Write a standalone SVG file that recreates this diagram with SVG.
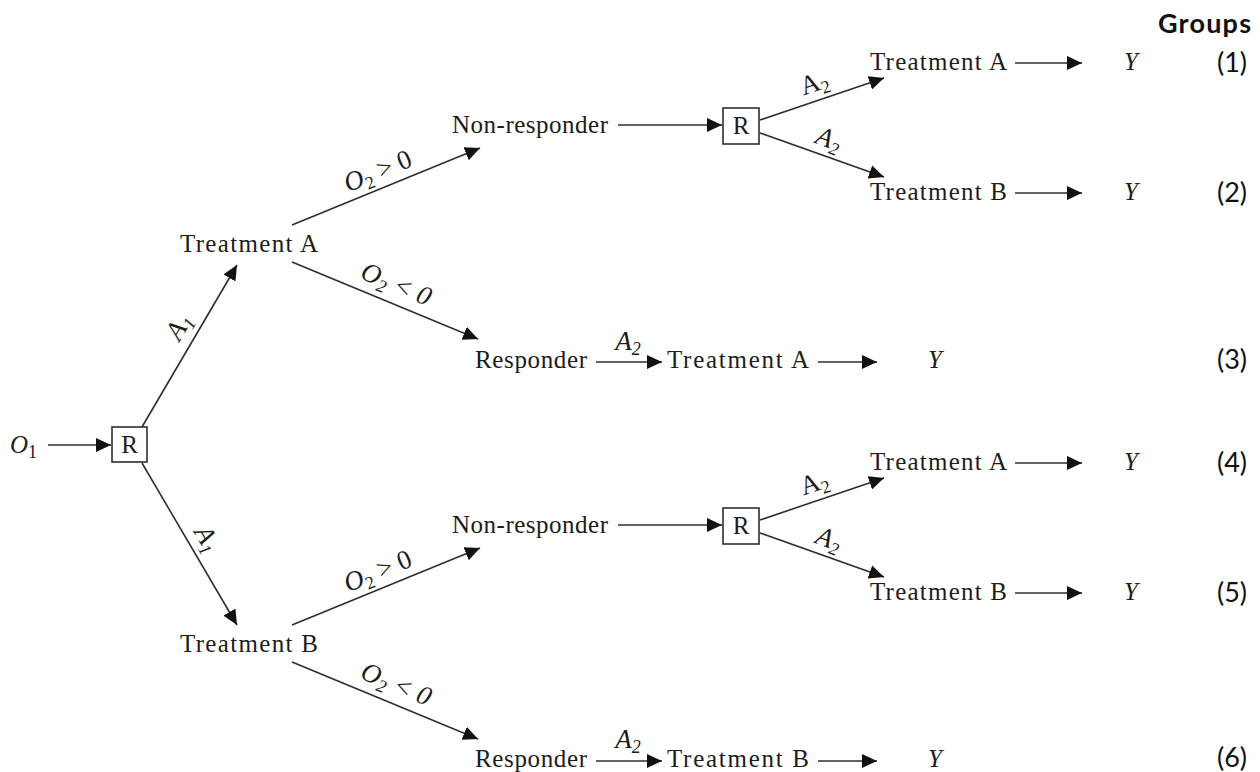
<svg xmlns="http://www.w3.org/2000/svg" width="1260" height="772" viewBox="0 0 1260 772">
<style>
.t{font-family:"Liberation Serif","Times New Roman",serif;font-size:25px;fill:#1c1c1c}
.i{font-style:italic}
.s{font-size:18px}
.lab{font-family:"Liberation Serif","Times New Roman",serif;font-size:27px;fill:#1c1c1c}
.g{font-family:Lato,"Open Sans",sans-serif;font-size:27px;fill:#111}
.gb{font-weight:bold}
.c{stroke:#2e2e2e;stroke-width:1.6;fill:none;marker-end:url(#ah)}
.box{fill:#fff;stroke:#2e2e2e;stroke-width:1.6}
</style>
<defs>
<marker id="ah" markerUnits="userSpaceOnUse" markerWidth="16" markerHeight="14" refX="15" refY="7" orient="auto">
<path d="M0,0 L15,7 L0,14 z" fill="#111"/>
</marker>
</defs>
<rect width="1260" height="772" fill="#fff"/>

<g id="connectors">
<line class="c" x1="48" y1="445" x2="111" y2="445"/>
<line class="c" x1="142" y1="427" x2="237" y2="265"/>
<line class="c" x1="142" y1="463" x2="237" y2="625"/>
<line class="c" x1="292" y1="225" x2="480" y2="148"/>
<line class="c" x1="292" y1="262" x2="478" y2="339"/>
<line class="c" x1="292" y1="625" x2="480" y2="548"/>
<line class="c" x1="292" y1="662" x2="478" y2="739"/>
<line class="c" x1="618" y1="125" x2="722" y2="125"/>
<line class="c" x1="618" y1="525" x2="722" y2="525"/>
<line class="c" x1="760" y1="120" x2="884" y2="78"/>
<line class="c" x1="760" y1="133" x2="884" y2="177"/>
<line class="c" x1="760" y1="520" x2="884" y2="478"/>
<line class="c" x1="760" y1="533" x2="884" y2="577"/>
<line class="c" x1="1015" y1="63" x2="1082" y2="63"/>
<line class="c" x1="1015" y1="193" x2="1082" y2="193"/>
<line class="c" x1="1015" y1="463" x2="1082" y2="463"/>
<line class="c" x1="1015" y1="593" x2="1082" y2="593"/>
<line class="c" x1="596" y1="362" x2="662" y2="362"/>
<line class="c" x1="818" y1="362" x2="877" y2="362"/>
<line class="c" x1="596" y1="761" x2="662" y2="761"/>
<line class="c" x1="818" y1="761" x2="877" y2="761"/>
</g>

<g id="edge-labels">
<text class="lab i" transform="translate(186,331) rotate(-59.5)" text-anchor="middle">A<tspan class="s" dy="5">1</tspan></text>
<text class="lab i" transform="translate(200,543) rotate(59.6)" text-anchor="middle">A<tspan class="s" dy="5">1</tspan></text>
<text class="lab" transform="translate(381,179) rotate(-22.3)" text-anchor="middle"><tspan class="i">O</tspan><tspan class="s" dy="5">2</tspan><tspan dy="-5"> &gt; 0</tspan></text>
<text class="lab i" transform="translate(393,292) rotate(22.5)" text-anchor="middle">O<tspan class="s" dy="5">2</tspan><tspan dy="-5"> &lt; 0</tspan></text>
<text class="lab" transform="translate(381,579) rotate(-22.3)" text-anchor="middle"><tspan class="i">O</tspan><tspan class="s" dy="5">2</tspan><tspan dy="-5"> &gt; 0</tspan></text>
<text class="lab i" transform="translate(393,692) rotate(22.5)" text-anchor="middle">O<tspan class="s" dy="5">2</tspan><tspan dy="-5"> &lt; 0</tspan></text>
<text class="lab" transform="translate(817,91) rotate(-18.7)" text-anchor="middle">A<tspan class="s" dy="5">2</tspan></text>
<text class="lab i" transform="translate(826,147) rotate(19.5)" text-anchor="middle">A<tspan class="s" dy="5">2</tspan></text>
<text class="lab" transform="translate(817,491) rotate(-18.7)" text-anchor="middle">A<tspan class="s" dy="5">2</tspan></text>
<text class="lab i" transform="translate(826,547) rotate(19.5)" text-anchor="middle">A<tspan class="s" dy="5">2</tspan></text>
<text class="lab i" x="628" y="350" text-anchor="middle">A<tspan class="s" dy="5">2</tspan></text>
<text class="lab i" x="628" y="748" text-anchor="middle">A<tspan class="s" dy="5">2</tspan></text>
</g>

<g id="node-O1"><text class="t i" x="10" y="453" font-size="27">O<tspan class="s" font-style="normal" dy="5">1</tspan></text></g>
<g id="node-R1"><rect class="box" x="112" y="427" width="35" height="35"/><text class="t" x="129.5" y="453" text-anchor="middle">R</text></g>
<g id="node-treatA"><text class="t" x="180" y="252" textLength="138">Treatment A</text></g>
<g id="node-treatB"><text class="t" x="180" y="652" textLength="138">Treatment B</text></g>
<g id="node-nonresp1"><text class="t" x="452" y="133" textLength="156">Non-responder</text></g>
<g id="node-nonresp2"><text class="t" x="452" y="533" textLength="156">Non-responder</text></g>
<g id="node-R2"><rect class="box" x="723" y="108" width="36" height="36"/><text class="t" x="741" y="134" text-anchor="middle">R</text></g>
<g id="node-R3"><rect class="box" x="723" y="508" width="36" height="36"/><text class="t" x="741" y="534" text-anchor="middle">R</text></g>
<g id="node-resp1"><text class="t" x="475" y="368" textLength="112">Responder</text></g>
<g id="node-resp2"><text class="t" x="475" y="767" textLength="112">Responder</text></g>
<g id="node-g1-treat"><text class="t" x="870" y="70" textLength="137">Treatment A</text></g>
<g id="node-g2-treat"><text class="t" x="870" y="200" textLength="137">Treatment B</text></g>
<g id="node-g3-treat"><text class="t" x="667" y="368" textLength="142">Treatment A</text></g>
<g id="node-g4-treat"><text class="t" x="870" y="470" textLength="137">Treatment A</text></g>
<g id="node-g5-treat"><text class="t" x="870" y="600" textLength="137">Treatment B</text></g>
<g id="node-g6-treat"><text class="t" x="667" y="767" textLength="142">Treatment B</text></g>
<g id="node-Y1"><text class="t i" x="1124" y="70">Y</text></g>
<g id="node-Y2"><text class="t i" x="1124" y="200">Y</text></g>
<g id="node-Y3"><text class="t i" x="928" y="368">Y</text></g>
<g id="node-Y4"><text class="t i" x="1124" y="470">Y</text></g>
<g id="node-Y5"><text class="t i" x="1124" y="600">Y</text></g>
<g id="node-Y6"><text class="t i" x="928" y="767">Y</text></g>

<g id="groups-column">
<text class="g gb" x="1158" y="33" textLength="93">Groups</text>
<text class="g" x="1247" y="72" text-anchor="end">(1)</text>
<text class="g" x="1247" y="202" text-anchor="end">(2)</text>
<text class="g" x="1247" y="369" text-anchor="end">(3)</text>
<text class="g" x="1247" y="472" text-anchor="end">(4)</text>
<text class="g" x="1247" y="602" text-anchor="end">(5)</text>
<text class="g" x="1247" y="767" text-anchor="end">(6)</text>
</g>
</svg>
